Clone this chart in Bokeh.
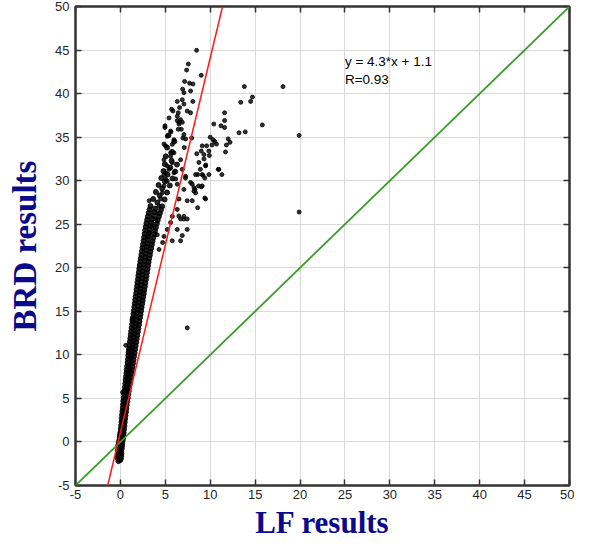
from bokeh.plotting import figure
from bokeh.models import Label, FixedTicker, Range1d, Slope, ColumnDataSource, PrintfTickFormatter, LinearAxis
from bokeh.embed import file_html
from bokeh.resources import INLINE

# ---------------- data ----------------
tick_values = [-5, 0, 5, 10, 15, 20, 25, 30, 35, 40, 45, 50]
x_title = "LF results"
y_title = "BRD results"
fit_text = "y = 4.3*x + 1.1"
r_text = "R=0.93"
fit_slope = 4.3
fit_intercept = 1.1
ident_slope = 1.0
ident_intercept = 0.0

# dense band of points (LF, BRD)
band_lf = [
    -0.22, -0.05,
    -0.28, -0.10, 0.05,
    -0.30, -0.12, 0.08,
    -0.25, -0.05, 0.12,
    -0.30, -0.10, 0.10,
    -0.22, -0.02, 0.15,
    -0.25, -0.05, 0.18,
    -0.18, 0.02, 0.20,
    -0.12, 0.08, 0.25,
    -0.08, 0.12, 0.30,
    -0.05, 0.15, 0.32,
    0.00, 0.20, 0.36,
    0.04, 0.24, 0.40,
    0.08, 0.28, 0.45,
    0.12, 0.30, 0.48,
    0.15, 0.35, 0.52,
    0.18, 0.38, 0.57,
    0.22, 0.42, 0.62,
    0.26, 0.46, 0.66,
    0.30, 0.50, 0.70,
    0.33, 0.55, 0.76,
    0.37, 0.60, 0.82,
    0.42, 0.65, 0.88,
    0.46, 0.70, 0.93,
    0.50, 0.74, 0.98,
    0.55, 0.80, 1.04,
    0.58, 0.85, 1.10,
    0.62, 0.90, 1.16,
    0.67, 0.95, 1.22,
    0.70, 1.00, 1.28,
    0.75, 1.05, 1.34,
    0.80, 1.10, 1.40,
    0.84, 1.15, 1.46,
    0.88, 1.20, 1.52,
    0.92, 1.26, 1.58,
    0.97, 1.30, 1.64,
    1.02, 1.36, 1.70,
    1.06, 1.42, 1.76,
    1.10, 1.47, 1.82,
    1.15, 1.52, 1.88,
    1.20, 1.57, 1.94,
    1.25, 1.62, 2.00,
    1.30, 1.68, 2.06,
    1.35, 1.73, 2.12,
    1.40, 1.78, 2.18,
    1.45, 1.84, 2.24,
    1.50, 1.90, 2.30,
    1.55, 1.95, 2.36,
    1.60, 2.00, 2.42,
    1.65, 2.06, 2.48,
    1.70, 2.12, 2.54,
    1.76, 2.18, 2.60,
    1.80, 2.23, 2.66,
    1.86, 2.28, 2.72,
    1.90, 2.34, 2.78,
    1.96, 2.40, 2.84,
    2.00, 2.45, 2.90,
    2.06, 2.50, 2.96,
    2.10, 2.56, 3.02,
    2.16, 2.62, 3.08,
    2.22, 2.68, 3.14,
    2.28, 2.74, 3.20,
    2.34, 2.80, 3.28,
    2.40, 2.86, 3.34,
    2.46, 2.92, 3.42,
    2.52, 2.98, 3.50,
    2.58, 3.05, 3.58,
    2.64, 3.12, 3.66,
    2.70, 3.20, 3.75,
    2.76, 3.28, 3.85,
    2.82, 3.36, 3.95,
    2.90, 3.45, 4.05,
    2.98, 3.55, 4.15,
    3.06, 3.65, 4.28,
    3.15, 3.75, 4.40,
    3.25, 3.88, 4.52,
    3.35, 4.65,
    4.12,
    3.65, 4.92,
    4.38,
    3.95, 5.20,
    4.65,
    4.25, 5.50,
    4.95,
    4.55, 5.80,
    5.25,
    4.80, 6.10,
    5.55,
    4.95, 6.30,
    5.70,
    5.05,
    5.75,
    5.20,
    6.00,
    5.35,
]
band_brd = [
    -2.2, -2.1,
    -1.9, -1.8, -1.95,
    -1.6, -1.5, -1.65,
    -1.3, -1.2, -1.35,
    -1.0, -0.9, -1.05,
    -0.7, -0.6, -0.75,
    -0.4, -0.3, -0.45,
    -0.1, 0.0, -0.15,
    0.2, 0.3, 0.15,
    0.5, 0.6, 0.45,
    0.8, 0.9, 0.75,
    1.1, 1.2, 1.05,
    1.5, 1.6, 1.45,
    1.9, 2.0, 1.85,
    2.3, 2.4, 2.25,
    2.7, 2.8, 2.65,
    3.1, 3.2, 3.05,
    3.5, 3.6, 3.45,
    3.9, 4.0, 3.85,
    4.3, 4.4, 4.25,
    4.7, 4.8, 4.65,
    5.1, 5.2, 5.05,
    5.5, 5.6, 5.45,
    5.9, 6.0, 5.85,
    6.3, 6.4, 6.25,
    6.7, 6.8, 6.65,
    7.1, 7.2, 7.05,
    7.5, 7.6, 7.45,
    7.9, 8.0, 7.85,
    8.3, 8.4, 8.25,
    8.7, 8.8, 8.65,
    9.1, 9.2, 9.05,
    9.5, 9.6, 9.45,
    9.9, 10.0, 9.85,
    10.3, 10.4, 10.25,
    10.7, 10.8, 10.65,
    11.1, 11.2, 11.05,
    11.5, 11.6, 11.45,
    11.9, 12.0, 11.85,
    12.3, 12.4, 12.25,
    12.7, 12.8, 12.65,
    13.1, 13.2, 13.05,
    13.5, 13.6, 13.45,
    13.9, 14.0, 13.85,
    14.3, 14.4, 14.25,
    14.7, 14.8, 14.65,
    15.1, 15.2, 15.05,
    15.5, 15.6, 15.45,
    15.9, 16.0, 15.85,
    16.3, 16.4, 16.25,
    16.7, 16.8, 16.65,
    17.1, 17.2, 17.05,
    17.5, 17.6, 17.45,
    17.9, 18.0, 17.85,
    18.3, 18.4, 18.25,
    18.7, 18.8, 18.65,
    19.1, 19.2, 19.05,
    19.5, 19.6, 19.45,
    19.9, 20.0, 19.85,
    20.3, 20.4, 20.25,
    20.7, 20.8, 20.65,
    21.1, 21.2, 21.05,
    21.5, 21.6, 21.45,
    21.9, 22.0, 21.85,
    22.3, 22.4, 22.25,
    22.7, 22.8, 22.65,
    23.1, 23.2, 23.05,
    23.5, 23.6, 23.45,
    23.9, 24.0, 23.85,
    24.3, 24.4, 24.25,
    24.7, 24.8, 24.65,
    25.1, 25.2, 25.05,
    25.5, 25.6, 25.45,
    25.9, 26.0, 25.85,
    26.3, 26.4, 26.25,
    26.7, 26.8, 26.65,
    27.1, 27.05,
    27.5,
    27.9, 27.85,
    28.3,
    28.7, 28.65,
    29.1,
    29.5, 29.45,
    29.9,
    30.3, 30.25,
    30.7,
    31.1, 31.05,
    31.5,
    31.9, 31.85,
    32.3,
    32.8,
    33.3,
    33.8,
    34.5,
    35.2,
]

# scattered points (LF, BRD)
scatter_lf = [
    8.48, 7.56, 7.37, 9.00, 7.15, 7.70, 8.07, 6.93, 7.07, 7.81, 8.07, 6.33, 6.89, 6.59,
    7.07, 5.85, 6.44, 7.44, 7.81, 5.41, 6.70, 6.52, 6.33, 6.89, 4.96, 5.59, 6.44,
    5.22, 5.03, 4.85, 5.22, 4.85, 5.03, 5.59, 5.96, 5.70, 6.33,
    4.96, 5.63, 6.52, 6.78, 7.07, 7.26, 6.96, 7.11, 7.93, 4.85, 5.78, 5.96, 5.59, 5.78,
    5.41, 5.04, 5.22, 4.85, 4.67, 4.48, 4.30, 4.11, 3.93, 3.56, 3.19, 3.00, 5.96, 6.15,
    6.33, 6.89, 6.70, 7.26, 7.07, 6.52, 6.33, 5.78, 5.59, 5.22, 4.85,
    9.11, 9.30, 9.85, 8.74, 9.48, 9.11, 9.85, 10.96, 7.81, 8.19, 8.37, 9.11, 8.00, 9.48,
    7.07, 6.70, 6.89, 6.33,
    13.8, 18.1, 13.4, 14.5, 14.7, 11.6, 11.6, 10.4, 11.2, 11.6, 13.2, 13.9, 15.8, 19.9,
    10.0, 10.3, 10.5, 10.7, 10.2, 12.0, 12.2, 11.8, 11.7, 9.6, 9.0, 8.5, 9.9, 9.3, 9.5,
    8.9, 8.6, 9.2, 9.4, 9.0, 8.7, 8.3, 8.6, 9.4, 10.9, 11.3, 19.9,
    7.25, 8.37, 7.99, 8.18, 7.44, 6.51, 7.07, 7.44, 5.77, 6.70, 7.44, 4.30, 4.70, 4.10,
    3.20, 7.44, 0.60, 0.90, 1.30, 0.25,
]
scatter_brd = [
    44.97, 43.4, 42.7, 42.1, 41.4, 41.2, 41.1, 40.5, 40.1, 40.3, 39.1, 39.1, 39.3, 38.4,
    38.8, 38.0, 37.8, 38.0, 37.8, 37.2, 37.0, 36.7, 36.9, 36.7, 36.3, 35.7, 35.9,
    35.1, 34.0, 32.4, 31.7, 30.7, 30.2, 33.2, 34.7, 38.2, 37.4,
    36.1, 35.6, 36.5, 35.9, 35.3, 34.8, 34.9, 33.8, 34.9, 34.2, 34.17, 33.2, 32.8, 32.07,
    31.3, 30.9, 29.96, 29.4, 28.6, 27.9, 27.1, 26.3, 25.6, 24.8, 24.0, 23.5, 30.9, 30.2,
    29.6, 31.3, 32.4, 30.5, 29.0, 27.9, 26.7, 25.9, 25.2, 24.4, 23.6,
    34.0, 33.0, 33.4, 32.1, 31.7, 30.7, 30.7, 31.3, 29.8, 29.2, 28.6, 29.4, 27.7, 27.9,
    25.9, 25.6, 23.7, 24.4,
    40.8, 40.8, 39.0, 39.1, 39.6, 37.8, 36.9, 36.5, 36.3, 36.1, 35.5, 35.6, 36.4, 35.2,
    35.0, 34.7, 34.5, 34.2, 34.1, 34.8, 34.4, 34.1, 33.3, 34.0, 33.4, 33.1, 32.9, 32.5, 31.8,
    31.3, 30.7, 30.6, 30.3, 29.3, 29.4, 29.0, 26.9, 28.0, 31.3, 30.7, 26.4,
    30.3, 30.7, 29.6, 28.8, 27.7, 25.95, 25.6, 25.6, 23.1, 23.1, 24.4, 22.1, 22.9, 23.8,
    27.7, 13.1, 11.1, 10.5, 14.1, 5.7,
]

# ---------------- figure ----------------
p = figure(width=574, height=543, x_range=Range1d(-5, 50), y_range=Range1d(-5, 50),
           output_backend="svg", toolbar_location=None,
           min_border_left=75, min_border_right=5, min_border_top=6, min_border_bottom=58,
           background_fill_color="white", border_fill_color="white")

p.outline_line_color = "#333333"
p.outline_line_width = 2

navy = "#0a0a8a"
for ax in (p.xaxis[0], p.yaxis[0]):
    ax.ticker = FixedTicker(ticks=tick_values)
    ax.formatter = PrintfTickFormatter(format="%d")
    ax.major_tick_in = 6
    ax.major_tick_out = 0
    ax.minor_tick_line_color = None
    ax.axis_line_color = "#333333"
    ax.axis_line_width = 2
    ax.major_tick_line_color = "#333333"
    ax.major_tick_line_width = 1.5
    ax.major_label_text_font = "Liberation Sans"
    ax.major_label_text_font_size = "13px"
    ax.major_label_text_color = "#262626"
    ax.axis_label_text_font = "Liberation Serif"
    ax.axis_label_text_font_style = "bold"
    ax.axis_label_text_color = navy

p.xaxis.axis_label = x_title
p.yaxis.axis_label = y_title
p.xaxis.major_label_standoff = 4
p.yaxis.major_label_standoff = 6
p.xaxis.axis_label_text_font_size = "31px"
p.yaxis.axis_label_text_font_size = "33px"
p.xaxis.axis_label_standoff = 3
p.yaxis.axis_label_standoff = 9

# inward ticks on the top and right edges (box axes without labels)
for side in ("above", "right"):
    box_ax = LinearAxis(ticker=FixedTicker(ticks=tick_values), major_tick_in=6, major_tick_out=0,
                        minor_tick_line_color=None, axis_line_color="#333333", axis_line_width=2,
                        major_tick_line_color="#333333", major_tick_line_width=1.5,
                        major_label_text_color=None, major_label_text_font_size="0px",
                        major_label_standoff=0)
    p.add_layout(box_ax, side)

p.xgrid.ticker = FixedTicker(ticks=tick_values)
p.ygrid.ticker = FixedTicker(ticks=tick_values)
p.grid.grid_line_color = "#d9d9d9"
p.grid.grid_line_width = 1

band_src = ColumnDataSource(dict(x=band_lf, y=band_brd))
sc_src = ColumnDataSource(dict(x=scatter_lf, y=scatter_brd))
p.scatter("x", "y", source=band_src, marker="circle", size=5, color="black", alpha=0.85)
p.scatter("x", "y", source=sc_src, marker="circle", size=4, color="black", alpha=0.8)

p.add_layout(Slope(gradient=ident_slope, y_intercept=ident_intercept,
                   line_color="#3a9a2a", line_width=1.8))
p.add_layout(Slope(gradient=fit_slope, y_intercept=fit_intercept,
                   line_color="#ff1a1a", line_width=1.5))

p.add_layout(Label(x=25, y=44.6, text=fit_text, text_baseline="top",
                   text_font="Liberation Sans", text_font_size="13.5px", text_color="black"))
p.add_layout(Label(x=25, y=42.5, text=r_text, text_baseline="top",
                   text_font="Liberation Sans", text_font_size="13.5px", text_color="black"))

open("out.html", "w").write(file_html(p, INLINE))
